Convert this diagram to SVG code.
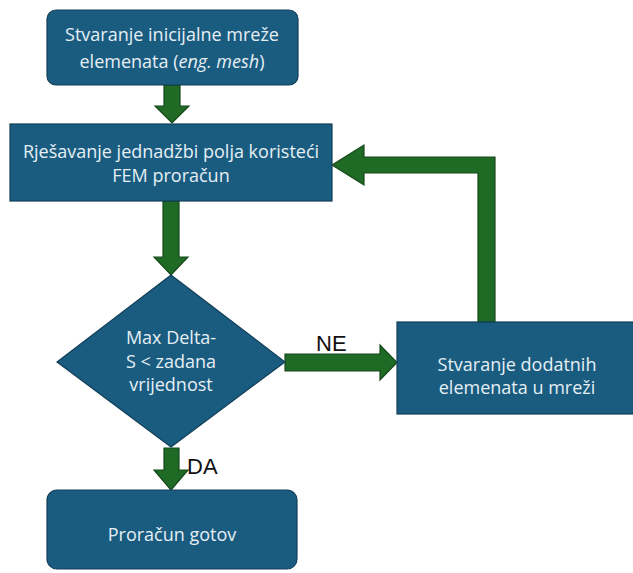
<svg xmlns="http://www.w3.org/2000/svg" width="633" height="573" viewBox="0 0 633 573">
  <style>
    .node { fill: #1a5c80; stroke: #123f58; stroke-width: 1.2; }
    .arrow { fill: #1f6b26; stroke: #16481a; stroke-width: 1.2; stroke-linejoin: miter; }
    .t { font-family: "Open Sans", "Liberation Sans", Arial, sans-serif; font-size: 18px; fill: #e6eff4; text-anchor: middle; }
    .lbl { font-family: "Liberation Sans", Arial, sans-serif; font-size: 22px; fill: #111111; }
  </style>
  <rect width="633" height="573" fill="#ffffff"/>
  <g id="connectors">
    <polygon class="arrow" points="164,85 180,85 180,106 189,106 172,123 155,106 164,106"/>
    <polygon class="arrow" points="163,201 179,201 179,257 188,257 171,275 154,257 163,257"/>
    <polygon class="arrow" points="164,448 179,448 179,470 188,470 171,490 154,470 164,470"/>
    <polygon class="arrow" points="285,354 380,354 380,345 397,362.5 380,380 380,371 285,371"/>
    <polygon class="arrow" points="478,322 478,173 364,173 364,185 332,165 364,145 364,157 495,157 495,322"/>
    <text class="lbl" x="316" y="351">NE</text>
    <text class="lbl" x="187" y="474">DA</text>
  </g>
  <g id="node-start">
    <rect class="node" x="47" y="10" width="251" height="75" rx="9"/>
    <text class="t" x="172" y="41">Stvaranje inicijalne mreže</text>
    <text class="t" x="172" y="68">elemenata (<tspan font-style="italic">eng. mesh</tspan>)</text>
  </g>
  <g id="node-solve">
    <rect class="node" x="10" y="124" width="322" height="77"/>
    <text class="t" x="171" y="158">Rješavanje jednadžbi polja koristeći</text>
    <text class="t" x="171" y="182">FEM proračun</text>
  </g>
  <g id="node-decision">
    <polygon class="node" points="171,275 285,362 171,447 57,362"/>
    <text class="t" x="171" y="344">Max Delta-</text>
    <text class="t" x="171" y="368">S &lt; zadana</text>
    <text class="t" x="171" y="391">vrijednost</text>
  </g>
  <g id="node-refine">
    <rect class="node" x="397" y="322" width="240" height="92"/>
    <text class="t" x="517" y="371">Stvaranje dodatnih</text>
    <text class="t" x="517" y="394">elemenata u mreži</text>
  </g>
  <g id="node-end">
    <rect class="node" x="47" y="490" width="250" height="79" rx="10"/>
    <text class="t" x="172" y="541">Proračun gotov</text>
  </g>
</svg>
